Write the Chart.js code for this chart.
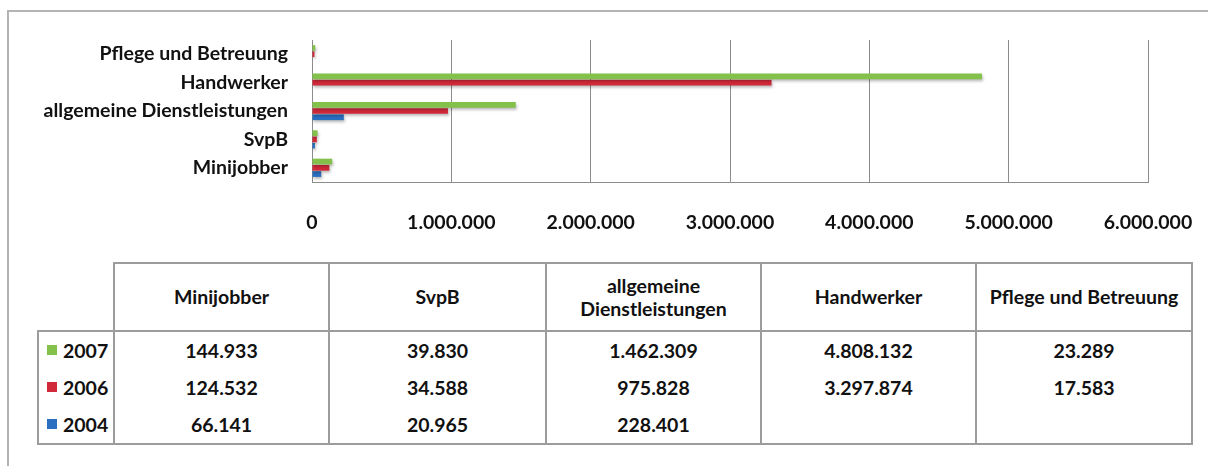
<!DOCTYPE html>
<html>
<head>
<meta charset="utf-8">
<script src="https://cdn.jsdelivr.net/npm/chart.js"></script>
<style>
  html, body { margin: 0; padding: 0; background: #fff; width: 1208px; height: 466px; overflow: hidden; }
  body { position: relative; font-family: Lato, "Open Sans", sans-serif; font-weight: bold; color: #111; }
  #frame { position: absolute; left: 7px; top: 10px; width: 1400px; height: 600px;
           border-top: 2px solid #b4b4b4; border-left: 2px solid #b4b4b4; box-sizing: border-box; }
  #plotBox { position: absolute; left: 0; top: 0; width: 1208px; height: 250px; }
  #tbl { position: absolute; left: 37px; top: 262px; border-collapse: collapse; table-layout: fixed; font-size: 19.5px; }
  #tbl th, #tbl td { text-align: center; padding: 0 4px; }
  #tbl th { height: 66px; border: 2px solid #9c9c9c; line-height: 1.2; }
  #tbl th.blank { border: none; }
  #tbl td { height: 37px; border-left: 2px solid #9c9c9c; border-right: 2px solid #9c9c9c; }
  #tbl tr.first td { border-top: 2px solid #9c9c9c; }
  #tbl tr:last-child td { border-bottom: 2px solid #9c9c9c; }
  #tbl td.leg { text-align: left; padding-left: 8px; }
  #tbl td.leg span.sq { display: inline-block; width: 10px; height: 10px; margin-right: 6px; vertical-align: 3px; }
</style>
</head>
<body>
<div id="frame"></div>
<div id="plotBox"><canvas id="plot" width="1208" height="250"></canvas></div>
<table id="tbl"></table>
<script>
// categories as listed in the table (left to right)
const categories = ['Minijobber', 'SvpB', 'allgemeine Dienstleistungen', 'Handwerker', 'Pflege und Betreuung'];
const years = ['2007', '2006', '2004'];
const values2007 = [144933, 39830, 1462309, 4808132, 23289];
const values2006 = [124532, 34588, 975828, 3297874, 17583];
const values2004 = [66141, 20965, 228401, null, null];
const colors = ['#84c14a', '#d2293a', '#2a6fc0'];
const xMax = 6000000;
const xStep = 1000000;

const series = [values2007, values2006, values2004];

function fmt(v) {
    if (v === null || v === undefined) return '';
    return String(v).replace(/\B(?=(\d{3})+(?!\d))/g, '.');
}

const barShadow = {
    id: 'barShadow',
    beforeDatasetsDraw(chart) {
        const c = chart.ctx;
        c.save();
        c.shadowColor = 'rgba(0,0,0,0.28)';
        c.shadowBlur = 3;
        c.shadowOffsetX = 1;
        c.shadowOffsetY = 2;
    },
    afterDatasetsDraw(chart) {
        chart.ctx.restore();
    }
};

const tickFont = { family: 'Lato', weight: 'bold', size: 19.5 };
const gridGrey = '#8c8c8c';

// chart goes top to bottom, table goes left to right
const chartLabels = categories.slice().reverse();

new Chart(document.getElementById('plot').getContext('2d'), {
    type: 'bar',
    data: {
        labels: chartLabels,
        datasets: years.map((y, i) => ({
            label: y,
            data: series[i].slice().reverse(),
            backgroundColor: colors[i],
            borderWidth: 0,
            categoryPercentage: 0.66,
            barPercentage: 0.92
        }))
    },
    options: {
        indexAxis: 'y',
        responsive: false,
        animation: false,
        layout: { padding: { left: 0, top: 40, right: 60, bottom: 0 } },
        plugins: { legend: { display: false }, tooltip: { enabled: false } },
        scales: {
            x: {
                min: 0,
                max: xMax,
                afterFit: (s) => { s.height = 68; s.paddingLeft = 0; s.paddingRight = 0; },
                ticks: {
                    stepSize: xStep,
                    padding: 29,
                    color: '#111',
                    font: tickFont,
                    maxRotation: 0,
                    callback: (v) => fmt(v)
                },
                grid: { color: gridGrey, lineWidth: 1, drawTicks: false },
                border: { color: gridGrey, width: 1 }
            },
            y: {
                afterFit: (s) => { s.width = 312; },
                ticks: { padding: 24, color: '#111', font: tickFont },
                grid: { display: false, drawTicks: false },
                border: { color: gridGrey, width: 1 }
            }
        }
    },
    plugins: [barShadow]
});

// data table under the chart
const tbl = document.getElementById('tbl');
const colW = [76, 215, 217, 215, 215, 216];
let html = '<colgroup>' + colW.map(w => '<col style="width:' + w + 'px">').join('') + '</colgroup>';
html += '<tr><th class="blank"></th>' + categories.map(c => '<th>' + c + '</th>').join('') + '</tr>';
years.forEach((y, i) => {
    html += '<tr' + (i === 0 ? ' class="first"' : '') + '><td class="leg"><span class="sq" style="background:' + colors[i] + '"></span>' + y + '</td>';
    html += series[i].map(v => '<td>' + fmt(v) + '</td>').join('') + '</tr>';
});
tbl.innerHTML = html;
</script>
</body>
</html>
